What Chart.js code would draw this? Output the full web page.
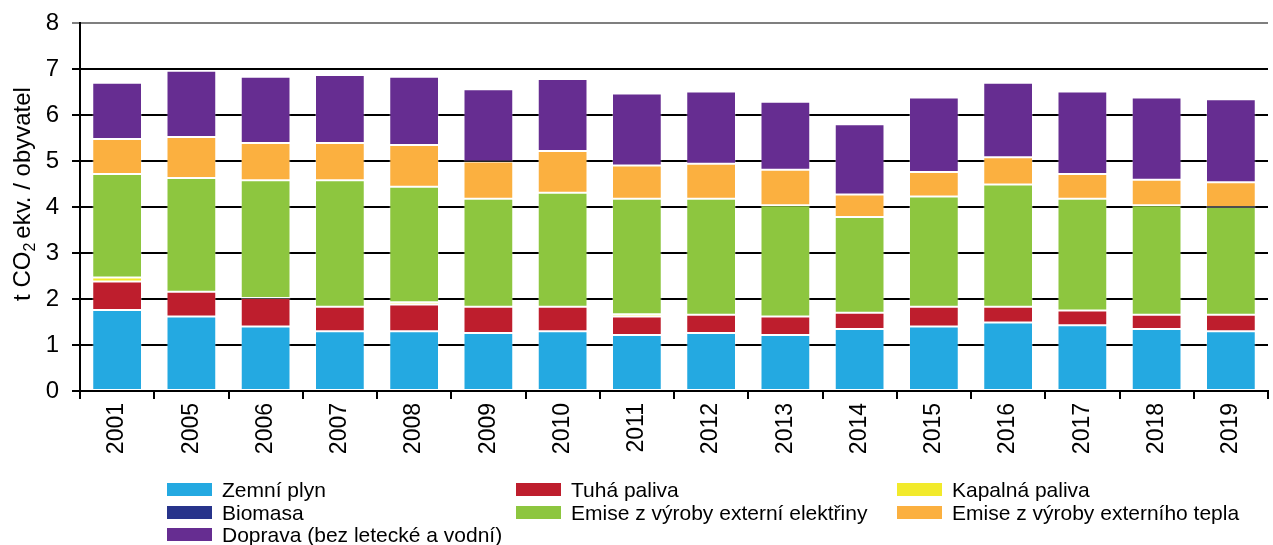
<!DOCTYPE html>
<html>
<head>
<meta charset="utf-8">
<script src="https://cdn.jsdelivr.net/npm/chart.js@4.4.1/dist/chart.umd.min.js"></script>
<style>
  html, body { margin: 0; padding: 0; background: #fff; }
  #wrap { position: relative; width: 1273px; height: 545px; overflow: hidden; }
  #c { position: absolute; left: 0; top: 0; }
  #legend { position: absolute; left: 0; top: 0; width: 1273px; height: 545px; pointer-events: none;
            font-family: "Liberation Sans", Arial, sans-serif; font-size: 21px; color: #000; }
  .li { position: absolute; display: flex; align-items: center; white-space: nowrap; height: 23px; }
  .sw { width: 45px; height: 13px; margin-right: 10px; flex: none; }
</style>
</head>
<body>
<div id="wrap">
  <canvas id="c" width="1273" height="470"></canvas>
  <div id="legend"></div>
</div>
<script>
const categories = ["2001","2005","2006","2007","2008","2009","2010","2011","2012","2013","2014","2015","2016","2017","2018","2019"];

const zemniPlyn   = [1.76,1.62,1.40,1.30,1.30,1.26,1.30,1.22,1.26,1.22,1.35,1.40,1.49,1.43,1.35,1.30];
const tuhaPaliva  = [0.62,0.54,0.62,0.53,0.58,0.57,0.53,0.40,0.40,0.40,0.35,0.43,0.34,0.32,0.31,0.36];
const kapalnaPal  = [0.09,0.00,0.00,0.00,0.05,0.00,0.00,0.05,0.00,0.00,0.00,0.00,0.00,0.00,0.00,0.00];
const biomasa     = [0,0,0,0,0,0,0,0,0,0,0,0,0,0,0,0];
const elektrina   = [2.25,2.47,2.56,2.75,2.51,2.35,2.48,2.51,2.52,2.42,2.08,2.40,2.66,2.43,2.38,2.34];
const teplo       = [0.76,0.89,0.81,0.81,0.91,0.81,0.91,0.72,0.76,0.77,0.49,0.53,0.59,0.54,0.55,0.54];
const doprava     = [1.22,1.44,1.44,1.48,1.48,1.57,1.56,1.57,1.57,1.48,1.53,1.62,1.62,1.79,1.79,1.80];

const seriesNames = ["Zemní plyn","Tuhá paliva","Kapalná paliva","Biomasa","Emise z výroby externí elektřiny","Emise z výroby externího tepla","Doprava (bez letecké a vodní)"];
const seriesData  = [zemniPlyn, tuhaPaliva, kapalnaPal, biomasa, elektrina, teplo, doprava];
const seriesColors = ["#24A9E1","#BE1E2D","#F2EA2B","#27348B","#8DC63F","#FBB040","#662D91"];

const yTicks = [0,1,2,3,4,5,6,7,8];
const yTitleParts = ["t CO", "2", "ekv. / obyvatel"];

const FONT = '"Liberation Sans", Arial, sans-serif';

const datasets = seriesNames.map((n, i) => ({
  label: n,
  data: seriesData[i],
  backgroundColor: seriesColors[i],
  borderColor: 'rgba(255,255,255,0.3)',
  borderWidth: 1,
  borderSkipped: false,
  stack: 's',
  barPercentage: 0.67,
  categoryPercentage: 1.0
}));

const yTitlePlugin = {
  id: 'yTitle',
  afterDraw(chart) {
    const ctx = chart.ctx;
    const big = 24, small = 16;
    ctx.save();
    ctx.fillStyle = '#000';
    ctx.textBaseline = 'alphabetic';
    ctx.font = big + 'px ' + FONT;
    const w0 = ctx.measureText(yTitleParts[0]).width;
    const w2 = ctx.measureText(yTitleParts[2]).width;
    ctx.font = small + 'px ' + FONT;
    const w1 = ctx.measureText(yTitleParts[1]).width;
    const gap = 4;
    const total = w0 + w1 + gap + w2;
    const cx = 30, cy = 194;
    ctx.translate(cx, cy);
    ctx.rotate(-Math.PI / 2);
    let x = -total / 2;
    ctx.font = big + 'px ' + FONT;
    ctx.fillText(yTitleParts[0], x, 0); x += w0;
    ctx.font = small + 'px ' + FONT;
    ctx.fillText(yTitleParts[1], x, 5); x += w1 + gap;
    ctx.font = big + 'px ' + FONT;
    ctx.fillText(yTitleParts[2], x, 0);
    ctx.restore();
  }
};

new Chart(document.getElementById('c'), {
  type: 'bar',
  data: { labels: categories, datasets },
  plugins: [yTitlePlugin],
  options: {
    responsive: false,
    animation: false,
    layout: { padding: { top: 23, right: 5, left: 0, bottom: 0 } },
    plugins: { legend: { display: false }, tooltip: { enabled: false }, title: { display: false } },
    scales: {
      x: {
        stacked: true,
        afterFit: s => { s.height = 79; s.paddingLeft = 0; s.paddingRight = 0; },
        grid: { display: true, drawOnChartArea: false, drawTicks: true, tickLength: 8, color: '#000', lineWidth: 2, offset: true },
        border: { display: true, color: '#000', width: 2 },
        ticks: { color: '#000', font: { family: FONT, size: 23 }, minRotation: 90, maxRotation: 90, padding: 4, autoSkip: false }
      },
      y: {
        stacked: true,
        min: 0, max: 8,
        afterBuildTicks: s => { s.ticks = yTicks.map(v => ({ value: v })); },
        afterFit: s => { s.width = 80; s.paddingTop = 0; s.paddingBottom = 0; },
        grid: {
          color: ctx => (ctx.tick && ctx.tick.value === 8) ? '#7f7f7f' : '#000',
          lineWidth: 2, tickLength: 8, drawTicks: true
        },
        border: { display: true, color: '#000', width: 2 },
        ticks: { color: '#000', font: { family: FONT, size: 24 }, padding: 13, stepSize: 1 },
        title: { display: false }
      }
    }
  }
});

const legendCols = [167, 516, 897];
const legendRows = [478, 501, 523];
const lg = document.getElementById('legend');
seriesNames.forEach((n, i) => {
  const d = document.createElement('div');
  d.className = 'li';
  d.style.left = legendCols[i % 3] + 'px';
  d.style.top = legendRows[Math.floor(i / 3)] + 'px';
  const sw = document.createElement('span');
  sw.className = 'sw';
  sw.style.background = seriesColors[i];
  const t = document.createElement('span');
  t.textContent = n;
  d.appendChild(sw); d.appendChild(t);
  lg.appendChild(d);
});
</script>
</body>
</html>
